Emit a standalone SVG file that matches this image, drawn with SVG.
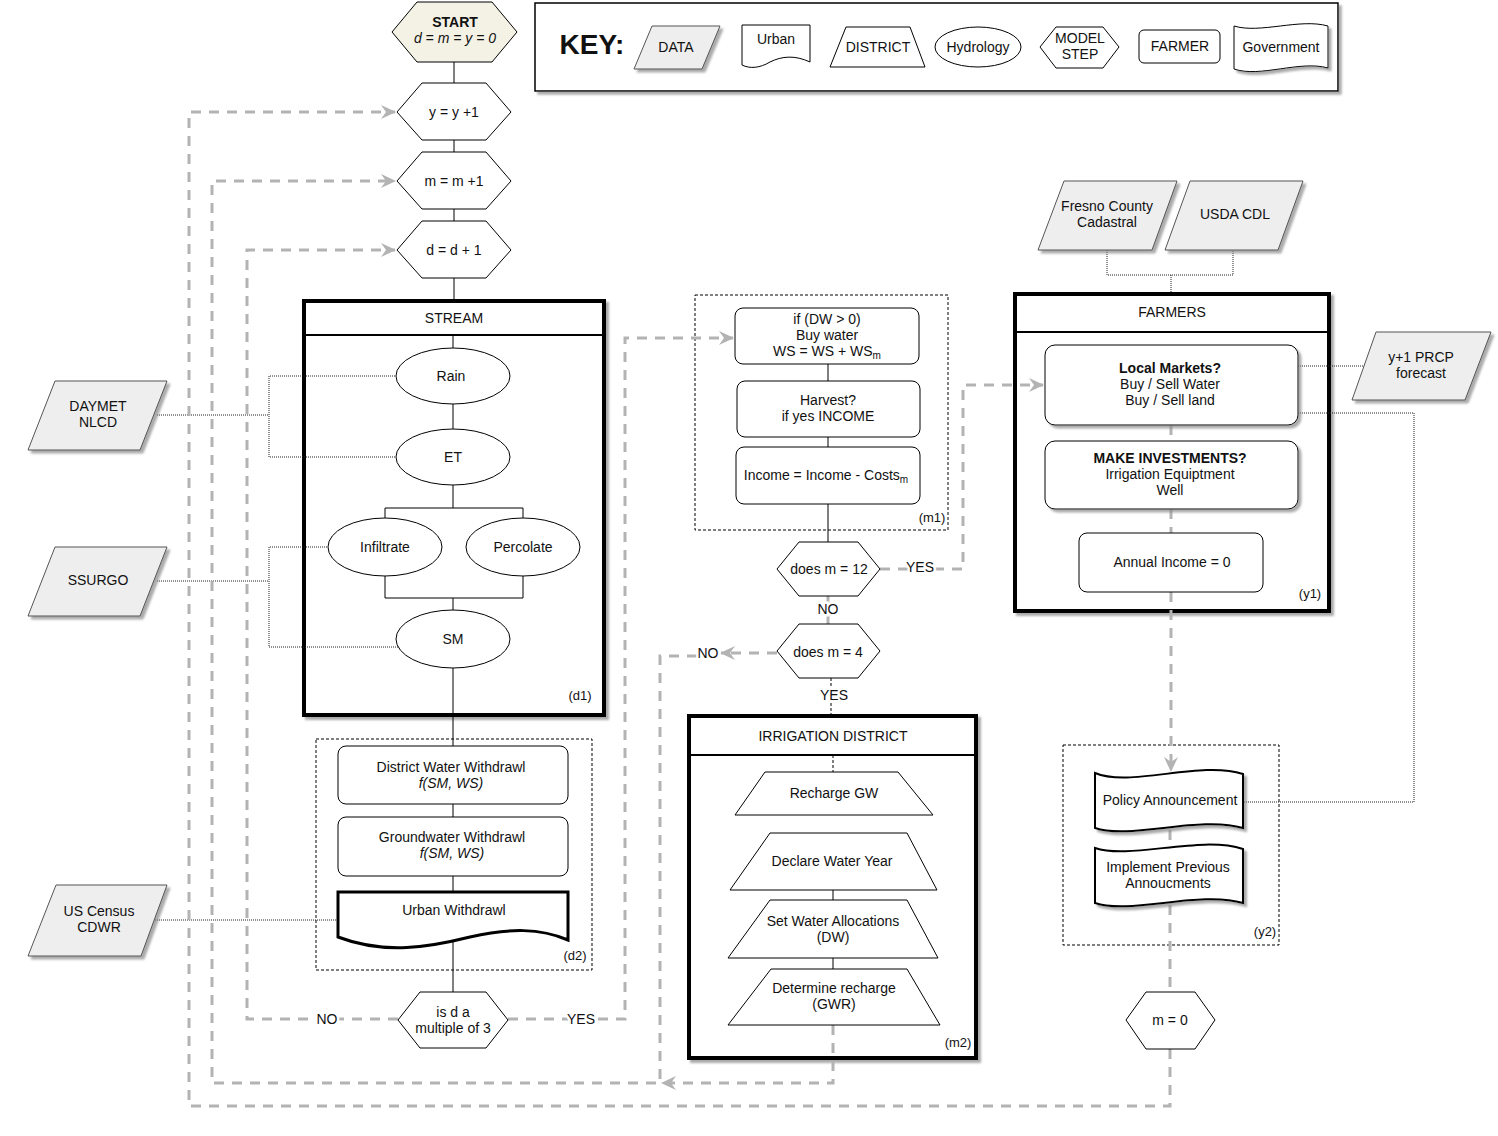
<svg xmlns="http://www.w3.org/2000/svg" width="1498" height="1136" viewBox="0 0 1498 1136">
<defs>
<filter id="sh" x="-10%" y="-10%" width="130%" height="130%">
<feDropShadow dx="3" dy="3" stdDeviation="1.2" flood-color="#888" flood-opacity="0.7"/>
</filter>
<marker id="ga" markerUnits="userSpaceOnUse" markerWidth="16" markerHeight="16" refX="14" refY="8" orient="auto">
<path d="M0,1 L15,8 L0,15 L5,8 Z" fill="#b3b3b3"/>
</marker>
</defs>
<style>
text{font-family:"Liberation Sans",Arial,sans-serif;font-size:14px;text-anchor:middle;fill:#111}
.b{font-weight:bold}
.i{font-style:italic}
.sm{font-size:13px}
.lbl{paint-order:stroke;stroke:#fff;stroke-width:5px}
.ln{stroke:#000;stroke-width:1;fill:none}
.dot{stroke:#222;stroke-width:1;stroke-dasharray:1,1;fill:none}
.gd{stroke:#b3b3b3;stroke-width:3;stroke-dasharray:10,8;fill:none}
.bd{stroke:#000;stroke-width:1;stroke-dasharray:3,2;fill:none}
.data{fill:#eeeeee;stroke:#555;stroke-width:1;filter:url(#sh)}
.shp{fill:#fff;stroke:#000;stroke-width:1}
.big{fill:#fff;stroke:#000;stroke-width:4;filter:url(#sh)}
.thk{fill:#fff;stroke:#000;stroke-width:2;filter:url(#sh)}
</style>
<rect width="1498" height="1136" fill="#fff"/>

<!-- KEY -->
<g id="key">
<rect x="535" y="3" width="803" height="88" fill="#fff" stroke="#000" stroke-width="1.5" filter="url(#sh)"/>
<text x="592" y="54" class="b" style="font-size:28px">KEY:</text>
<polygon class="data" points="652,26 720,26 702,69 634,69"/>
<text x="676" y="52">DATA</text>
<path class="shp" d="M742,25 H810 V62 C795,55 782,56 770,62 C760,68 750,69 742,65 Z"/>
<text x="776" y="44">Urban</text>
<polygon class="shp" points="846,27 910,27 925,67 830,67"/>
<text x="878" y="52">DISTRICT</text>
<ellipse class="shp" cx="978" cy="47" rx="43" ry="20"/>
<text x="978" y="52">Hydrology</text>
<polygon class="shp" points="1040,47 1056,27 1103,27 1119,47 1103,68 1056,68"/>
<text x="1080" y="43">MODEL</text>
<text x="1080" y="59">STEP</text>
<rect class="shp" x="1139" y="30" width="81" height="33" rx="5"/>
<text x="1180" y="51">FARMER</text>
<path class="shp" d="M1234,26 C1260,34 1300,18 1328,26 V68 C1300,60 1260,78 1234,69 Z" filter="url(#sh)"/>
<text x="1281" y="52">Government</text>
</g>

<!-- containers -->
<g id="stream">
<rect class="big" x="304" y="301" width="300" height="414"/>
<line x1="304" y1="335" x2="604" y2="335" stroke="#000" stroke-width="2"/>
<text x="454" y="323">STREAM</text>
<text x="580" y="700" class="sm">(d1)</text>
</g>
<g id="d2">
<rect class="bd" x="316" y="739" width="276" height="231"/>
<text x="575" y="960" class="sm">(d2)</text>
</g>
<g id="m1">
<rect class="bd" x="695" y="295" width="253" height="235"/>
<text x="932" y="522" class="sm">(m1)</text>
</g>
<g id="irrigation-district">
<rect class="big" x="689" y="716" width="287" height="342"/>
<line x1="689" y1="755" x2="976" y2="755" stroke="#000" stroke-width="2"/>
<text x="833" y="741">IRRIGATION DISTRICT</text>
<text x="958" y="1047" class="sm">(m2)</text>
</g>
<g id="farmers">
<rect class="big" x="1015" y="294" width="314" height="317"/>
<line x1="1015" y1="332" x2="1329" y2="332" stroke="#000" stroke-width="2"/>
<text x="1172" y="317">FARMERS</text>
<text x="1310" y="598" class="sm">(y1)</text>
</g>
<g id="y2">
<rect class="bd" x="1063" y="745" width="216" height="200"/>
<text x="1265" y="936" class="sm">(y2)</text>
</g>

<!-- connectors -->
<g id="connectors">
<path class="ln" d="M454,62 V83 M454,140 V152 M454,209 V221 M454,278 V300"/>
<path class="ln" d="M453,335 V348 M453,404 V429 M453,485 V508 M385,518 V508 H523 V518 M385,576 V598 H523 V576 M453,598 V610 M453,668 V746 M453,804 V817 M453,876 V892 M453,942 V992"/>
<path class="ln" d="M828,364 V381 M828,437 V447 M828,504 V542"/>
<path class="ln" d="M833,890 V900 M833,958 V969"/>
<path class="bd" d="M831,678 V715 M833,755 V772"/>
<path class="dot" d="M157,415 H269 M397,376 H269 V457 H397"/>
<path class="dot" d="M157,581 H269 M329,547 H269 V647 H398"/>
<path class="dot" d="M147,920 H338"/>
<path class="dot" d="M1107,250 V275 H1233 V250 M1171,275 V293"/>
<path class="dot" d="M1298,366 H1365"/>
<path class="dot" d="M1298,413 H1414 V802 H1244"/>
<path class="gd" d="M398,1019 H247 V250 H395" marker-end="url(#ga)"/>
<path class="gd" d="M508,1019 H625 V338 H733" marker-end="url(#ga)"/>
<path class="gd" d="M880,569 H963 V385 H1043" marker-end="url(#ga)"/>
<path class="gd" d="M828,596 V624"/>
<path class="gd" d="M777,653 H721" marker-end="url(#ga)"/>
<path class="gd" d="M697,656 H660 V1083 H212 V181 H395" marker-end="url(#ga)"/>
<path class="gd" d="M833,1025 V1083 H662" marker-end="url(#ga)"/>
<path class="gd" d="M1171,425 V441 M1171,509 V533"/>
<path class="gd" d="M1171,592 V771" marker-end="url(#ga)"/>
<path class="gd" d="M1170,830 V846 M1170,905 V992"/>
<path class="gd" d="M1170,1049 V1106 H189 V112 H395" marker-end="url(#ga)"/>
<text class="lbl" x="327" y="1024">NO</text>
<text class="lbl" x="581" y="1024">YES</text>
<text class="lbl" x="920" y="572">YES</text>
<text class="lbl" x="828" y="614">NO</text>
<text class="lbl" x="708" y="658">NO</text>
<text class="lbl" x="834" y="700">YES</text>
</g>

<!-- START & model steps -->
<g id="start">
<polygon points="392,32 417,2 492,2 517,32 492,62 417,62" fill="#f4f1e5" stroke="#000" stroke-width="1"/>
<text x="455" y="27" class="b">START</text>
<text x="455" y="43" class="i">d = m = y = 0</text>
</g>
<g id="y-step">
<polygon class="shp" points="397,112 422,83 486,83 511,112 486,140 422,140"/>
<text x="454" y="117">y = y +1</text>
</g>
<g id="m-step">
<polygon class="shp" points="397,181 422,152 486,152 511,181 486,209 422,209"/>
<text x="454" y="186">m = m +1</text>
</g>
<g id="d-step">
<polygon class="shp" points="397,250 422,221 486,221 511,250 486,278 422,278"/>
<text x="454" y="255">d = d + 1</text>
</g>

<!-- data sources -->
<g id="daymet">
<polygon class="data" points="55,381 167,381 140,450 28,450"/>
<text x="98" y="411">DAYMET</text>
<text x="98" y="427">NLCD</text>
</g>
<g id="ssurgo">
<polygon class="data" points="55,547 167,547 140,616 28,616"/>
<text x="98" y="585">SSURGO</text>
</g>
<g id="census">
<polygon class="data" points="56,885 167,885 141,956 28,956"/>
<text x="99" y="916">US Census</text>
<text x="99" y="932">CDWR</text>
</g>
<g id="fresno">
<polygon class="data" points="1064,181 1177,181 1152,250 1038,250"/>
<text x="1107" y="211">Fresno County</text>
<text x="1107" y="227">Cadastral</text>
</g>
<g id="usda">
<polygon class="data" points="1190,181 1303,181 1278,250 1165,250"/>
<text x="1235" y="219">USDA CDL</text>
</g>
<g id="prcp">
<polygon class="data" points="1376,332 1491,332 1465,400 1352,400"/>
<text x="1421" y="362">y+1 PRCP</text>
<text x="1421" y="378">forecast</text>
</g>

<!-- stream nodes -->
<g id="rain"><ellipse class="shp" cx="453" cy="376" rx="57" ry="28"/><text x="451" y="381">Rain</text></g>
<g id="et"><ellipse class="shp" cx="453" cy="457" rx="57" ry="28"/><text x="453" y="462">ET</text></g>
<g id="infiltrate"><ellipse class="shp" cx="385" cy="547" rx="57" ry="29"/><text x="385" y="552">Infiltrate</text></g>
<g id="percolate"><ellipse class="shp" cx="523" cy="547" rx="57" ry="29"/><text x="523" y="552">Percolate</text></g>
<g id="sm"><ellipse class="shp" cx="453" cy="639" rx="57" ry="29"/><text x="453" y="644">SM</text></g>

<!-- d2 nodes -->
<g id="district-withdrawl">
<rect class="shp" x="338" y="746" width="230" height="58" rx="8"/>
<text x="451" y="772">District Water Withdrawl</text>
<text x="451" y="788" class="i">f(SM, WS)</text>
</g>
<g id="gw-withdrawl">
<rect class="shp" x="338" y="817" width="230" height="59" rx="8"/>
<text x="452" y="842">Groundwater Withdrawl</text>
<text x="452" y="858" class="i">f(SM, WS)</text>
</g>
<g id="urban-withdrawl">
<path d="M338,892 H568 V940 C540,928 510,928 470,937 C430,947 385,955 338,937 Z" fill="#fff" stroke="#000" stroke-width="3"/>
<text x="454" y="915">Urban Withdrawl</text>
</g>
<g id="is-d-multiple">
<polygon class="shp" points="398,1020 420,992 486,992 508,1020 486,1048 420,1048"/>
<text x="453" y="1017">is d a</text>
<text x="453" y="1033">multiple of 3</text>
</g>

<!-- m1 nodes -->
<g id="buy-water">
<rect class="shp" x="735" y="308" width="184" height="56" rx="8"/>
<text x="827" y="324">if (DW &gt; 0)</text>
<text x="827" y="340">Buy water</text>
<text x="827" y="356">WS = WS + WS<tspan font-size="10" dy="3">m</tspan></text>
</g>
<g id="harvest">
<rect class="shp" x="737" y="381" width="183" height="56" rx="8"/>
<text x="828" y="405">Harvest?</text>
<text x="828" y="421">if yes INCOME</text>
</g>
<g id="income">
<rect class="shp" x="736" y="447" width="184" height="57" rx="8"/>
<text x="826" y="480">Income = Income - Costs<tspan font-size="10" dy="3">m</tspan></text>
</g>
<g id="does-m-12">
<polygon class="shp" points="777,569 799,542 858,542 880,569 858,596 799,596"/>
<text x="829" y="574">does m = 12</text>
</g>
<g id="does-m-4">
<polygon class="shp" points="777,651 799,624 858,624 880,651 858,678 799,678"/>
<text x="828" y="657">does m = 4</text>
</g>

<!-- district nodes -->
<g id="recharge-gw">
<polygon class="shp" points="765,772 898,772 933,815 735,815"/>
<text x="834" y="798">Recharge GW</text>
</g>
<g id="declare-water-year">
<polygon class="shp" points="770,833 907,833 937,890 730,890"/>
<text x="832" y="866">Declare Water Year</text>
</g>
<g id="set-allocations">
<polygon class="shp" points="770,900 907,900 938,958 728,958"/>
<text x="833" y="926">Set Water Allocations</text>
<text x="833" y="942">(DW)</text>
</g>
<g id="determine-recharge">
<polygon class="shp" points="771,969 907,969 940,1025 728,1025"/>
<text x="834" y="993">Determine recharge</text>
<text x="834" y="1009">(GWR)</text>
</g>

<!-- farmer nodes -->
<g id="local-markets">
<rect class="shp" x="1045" y="345" width="253" height="80" rx="10" filter="url(#sh)"/>
<text x="1170" y="373" class="b">Local Markets?</text>
<text x="1170" y="389">Buy / Sell Water</text>
<text x="1170" y="405">Buy / Sell land</text>
</g>
<g id="investments">
<rect class="shp" x="1045" y="441" width="253" height="68" rx="10" filter="url(#sh)"/>
<text x="1170" y="463" class="b">MAKE INVESTMENTS?</text>
<text x="1170" y="479">Irrigation Equiptment</text>
<text x="1170" y="495">Well</text>
</g>
<g id="annual-income">
<rect class="shp" x="1079" y="533" width="184" height="59" rx="8"/>
<text x="1172" y="567">Annual Income = 0</text>
</g>

<!-- government nodes -->
<g id="policy">
<path class="thk" d="M1095,773 C1130,788 1200,760 1243,774 V828 C1200,815 1130,840 1095,828 Z"/>
<text x="1170" y="805">Policy Announcement</text>
</g>
<g id="implement">
<path class="thk" d="M1095,848 C1130,860 1200,835 1243,849 V903 C1200,890 1130,915 1095,903 Z"/>
<text x="1168" y="872">Implement Previous</text>
<text x="1168" y="888">Annoucments</text>
</g>
<g id="m-zero">
<polygon class="shp" points="1126,1020 1146,992 1195,992 1215,1020 1195,1049 1146,1049"/>
<text x="1170" y="1025">m = 0</text>
</g>
</svg>
